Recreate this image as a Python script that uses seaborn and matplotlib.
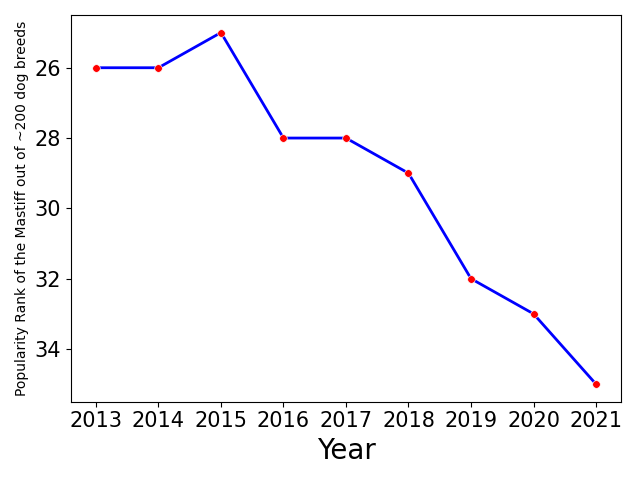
import matplotlib
matplotlib.use("Agg")
import matplotlib.pyplot as plt
import seaborn as sns
import pandas as pd

years = [2013, 2014, 2015, 2016, 2017, 2018, 2019, 2020, 2021]
ranks = [26, 26, 25, 28, 28, 29, 32, 33, 35]
df = pd.DataFrame({"Year": years, "Rank": ranks})

fig, ax = plt.subplots(figsize=(6.4, 4.8), dpi=100)
sns.lineplot(data=df, x="Year", y="Rank", color="blue", linewidth=2, ax=ax)
sns.scatterplot(data=df, x="Year", y="Rank", color="red", s=30, ax=ax, zorder=3)
ax.invert_yaxis()
ax.set_xticks(years)
ax.tick_params(labelsize=15)
ax.set_xlabel("Year", fontsize=20)
ax.set_ylabel("Popularity Rank of the Mastiff out of ~200 dog breeds", fontsize=10)
fig.tight_layout()
fig.savefig("out.png")
